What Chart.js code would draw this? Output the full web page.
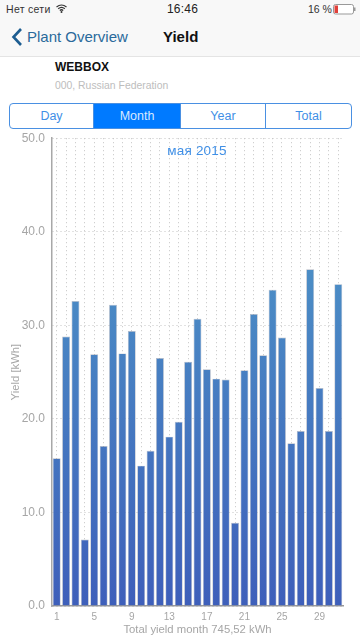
<!DOCTYPE html>
<html><head><meta charset="utf-8">
<script src="https://cdn.jsdelivr.net/npm/chart.js@4"></script>
<style>
html,body{margin:0;padding:0;background:#fff;width:360px;height:640px;overflow:hidden;font-family:"Liberation Sans",Roboto,sans-serif}
.a{position:absolute;white-space:nowrap}
#nav{left:0;top:0;width:360px;height:56px;background:#f8f8f8;border-bottom:1px solid #e4e4e4}
#seg{left:9px;top:103px;width:341px;height:24px;border:1px solid #4a90e2;border-radius:4px;overflow:hidden;display:flex;font-size:12.5px;color:#3f8fe6;line-height:24px;text-align:center}
#seg div{box-sizing:border-box;border-right:1px solid #4a90e2}
#seg div:last-child{border-right:0}
#seg .on{background:#007aff;color:#d8e9ff}
#wrap{left:0;top:124px;width:360px;height:516px}
</style></head><body>
<div class="a" id="nav"></div>
<div class="a" id="seg"><div style="width:84px">Day</div><div class="on" style="width:87px">Month</div><div style="width:85px">Year</div><div style="width:85px">Total</div></div>
<div class="a" id="wrap"><canvas id="c" width="360" height="516"></canvas></div>
<div class="a" style="left:6px;top:3px;font-size:10.5px;color:#333;letter-spacing:.3px">Нет сети</div>
<svg class="a" style="left:56px;top:4px" width="11" height="9" viewBox="0 0 11 9"><path d="M0.5 3 Q5.5 -1 10.5 3 M2.2 4.8 Q5.5 2 8.8 4.8 M3.8 6.5 Q5.5 5 7.2 6.5" fill="none" stroke="#333" stroke-width="1.2"/><circle cx="5.5" cy="8" r="1" fill="#333"/></svg>
<div class="a" style="left:167px;top:2px;font-size:12px;color:#222;letter-spacing:.2px">16:46</div>
<div class="a" style="left:308px;top:3px;font-size:10.5px;color:#333">16 %</div>
<svg class="a" style="left:333px;top:4px" width="23" height="11" viewBox="0 0 23 11"><rect x=".5" y=".5" width="20" height="9.5" rx="2" fill="#fff" stroke="#999"/><rect x="1.5" y="1.5" width="3.5" height="7.5" fill="#e0403a"/><rect x="21" y="3.5" width="1.5" height="3.5" fill="#999"/></svg>
<svg class="a" style="left:11px;top:27px" width="12" height="20" viewBox="0 0 12 20"><path d="M10 2 L2.5 10 L10 18" fill="none" stroke="#1d5d91" stroke-width="2.6"/></svg>
<div class="a" style="left:27px;top:28px;font-size:15px;color:#2a6a9b">Plant Overview</div>
<div class="a" style="left:163px;top:28px;font-size:15px;color:#111;font-weight:700">Yield</div>
<div class="a" style="left:55px;top:60px;font-size:12px;color:#111;font-weight:700">WEBBOX</div>
<div class="a" style="left:55px;top:80px;font-size:10.4px;color:#bdbdbd">000, Russian Federation</div>
<div class="a" style="left:0;width:394px;text-align:center;top:143px;font-size:13.5px;color:#3f8fe6;letter-spacing:.2px">мая 2015</div>
<script>
const days=[1,2,3,4,5,6,7,8,9,10,11,12,13,14,15,16,17,18,19,20,21,22,23,24,25,26,27,28,29,30,31];
const yieldKwh=[15.8,28.8,32.6,7.1,26.9,17.1,32.2,27.0,29.4,15.0,16.6,26.5,18.1,19.7,26.1,30.7,25.3,24.3,24.2,8.9,25.2,31.2,26.8,33.8,28.7,17.4,18.7,36.0,23.3,18.7,34.4];
const yTickStep=10;
const yMax=50;
const xTitle="Total yield month 745,52 kWh";
const yTitle="Yield [kWh]";
const fontFamily='"Liberation Sans",sans-serif';
const tickGrey='#a6a6a6';
function grad(ctx){
  const a=ctx.chart.chartArea; if(!a) return '#4a7cc0';
  const g=ctx.chart.ctx.createLinearGradient(0,a.top,0,a.bottom);
  g.addColorStop(0,'#55a0ce');g.addColorStop(.3,'#4b8cc5');g.addColorStop(1,'#3e5fba');return g;
}
new Chart(document.getElementById('c'),{
  type:'bar',
  data:{labels:days,datasets:[{data:yieldKwh,backgroundColor:grad,borderColor:'rgba(120,130,150,.55)',borderWidth:.7,categoryPercentage:1,barPercentage:.84}]},
  options:{responsive:false,animation:false,
    layout:{padding:{top:1,right:17,left:0,bottom:0}},
    plugins:{legend:{display:false},tooltip:{enabled:false}},
    scales:{
      x:{offset:true,
        grid:{display:true,color:'#c4c4c4',drawTicks:false,lineWidth:1,offset:false},
        border:{display:true,color:'#9a9a9a',width:1.5,dash:[1,3]},
        ticks:{autoSkip:false,maxRotation:0,padding:5,color:tickGrey,font:{size:10,family:fontFamily},
          callback(v,i){return i%4===0?days[i]:''}},
        title:{display:true,text:xTitle,color:tickGrey,padding:{top:1,bottom:3},font:{size:11.3,family:fontFamily}},
        afterFit(s){s.height=34}},
      y:{min:0,max:yMax,
        grid:{color:'#c4c4c4',drawTicks:false},
        border:{color:'#a8a8a8',width:1.5,dash:[1,3]},
        ticks:{stepSize:yTickStep,padding:7,color:tickGrey,font:{size:12,family:fontFamily},callback:v=>v.toFixed(1)},
        title:{display:true,text:yTitle,color:tickGrey,padding:{top:9,bottom:0},font:{size:11.3,family:fontFamily}},
        afterFit(s){s.width=52}}
    }}
});
</script></body></html>
